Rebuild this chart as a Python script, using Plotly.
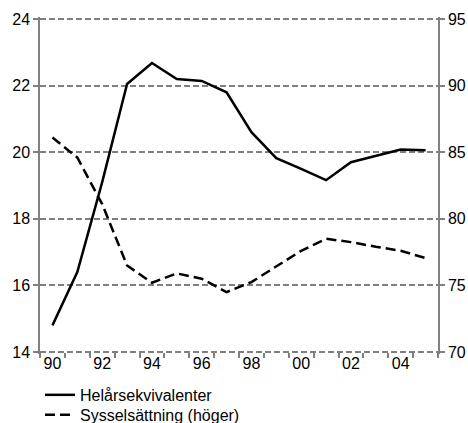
import plotly.graph_objects as go

years = list(range(1990, 2006))
tick_years = [1990, 1992, 1994, 1996, 1998, 2000, 2002, 2004]
tick_labels = ["90", "92", "94", "96", "98", "00", "02", "04"]
helars = [14.8, 16.4, 19.1, 22.05, 22.68, 22.2, 22.14, 21.8, 20.6, 19.82, 19.5, 19.16, 19.7, 19.9, 20.08, 20.06]
syssel = [86.1, 84.6, 81.1, 76.5, 75.2, 75.9, 75.5, 74.5, 75.25, 76.4, 77.6, 78.5, 78.25, 77.9, 77.6, 77.05]
name_a = "Helårsekvivalenter"
name_b = "Sysselsättning (höger)"
boundaries = [y - 0.5 for y in years] + [years[-1] + 0.5]

fig = go.Figure()
fig.add_trace(go.Scatter(x=years, y=helars, name=name_a, mode="lines", legend="legend",
                         line=dict(color="black", width=2.5)))
fig.add_trace(go.Scatter(x=years, y=syssel, name=name_b, mode="lines", yaxis="y2",
                         legend="legend2",
                         line=dict(color="black", width=2.5, dash="10px,5px")))

GRAY = "#808080"
pos = 2 / 337
leg = dict(x=0.0, xanchor="left", yanchor="top", font=dict(size=16), bgcolor="rgba(0,0,0,0)")
fig.update_layout(
    width=468, height=423,
    margin=dict(l=40, r=30, t=17, b=69, autoexpand=False),
    plot_bgcolor="white", paper_bgcolor="white",
    font=dict(family="Liberation Sans, Arial, sans-serif", size=16, color="black"),
    showlegend=True,
    legend=dict(y=-0.071, **leg),
    legend2=dict(y=-0.130, **leg),
    xaxis=dict(range=[1989.5, 2005.5], tickmode="array", tickvals=tick_years, ticktext=tick_labels,
               ticks="", anchor="free", position=pos,
               showgrid=False, zeroline=False, showline=False,
               minor=dict(tickmode="array", tickvals=boundaries, ticks="outside", ticklen=5,
                          tickcolor=GRAY, tickwidth=1.5, showgrid=False)),
    yaxis=dict(range=[13.94, 24.06], tickmode="array", tickvals=[14, 16, 18, 20, 22, 24],
               ticks="outside", ticklen=5, tickcolor=GRAY, tickwidth=1.5,
               showline=True, linecolor=GRAY, linewidth=1.5, zeroline=False,
               showgrid=True, gridcolor=GRAY, gridwidth=1.5, griddash="6px,3px"),
    yaxis2=dict(range=[69.85, 95.15], tickmode="array", tickvals=[70, 75, 80, 85, 90, 95],
                overlaying="y", side="right", ticks="outside",
                ticklen=5, tickcolor=GRAY, tickwidth=1.5, showline=True,
                linecolor=GRAY, linewidth=1.5, zeroline=False, showgrid=False),
)
fig.write_html("out.html", config={"displayModeBar": False},
               post_script="document.body.style.margin='0';")
